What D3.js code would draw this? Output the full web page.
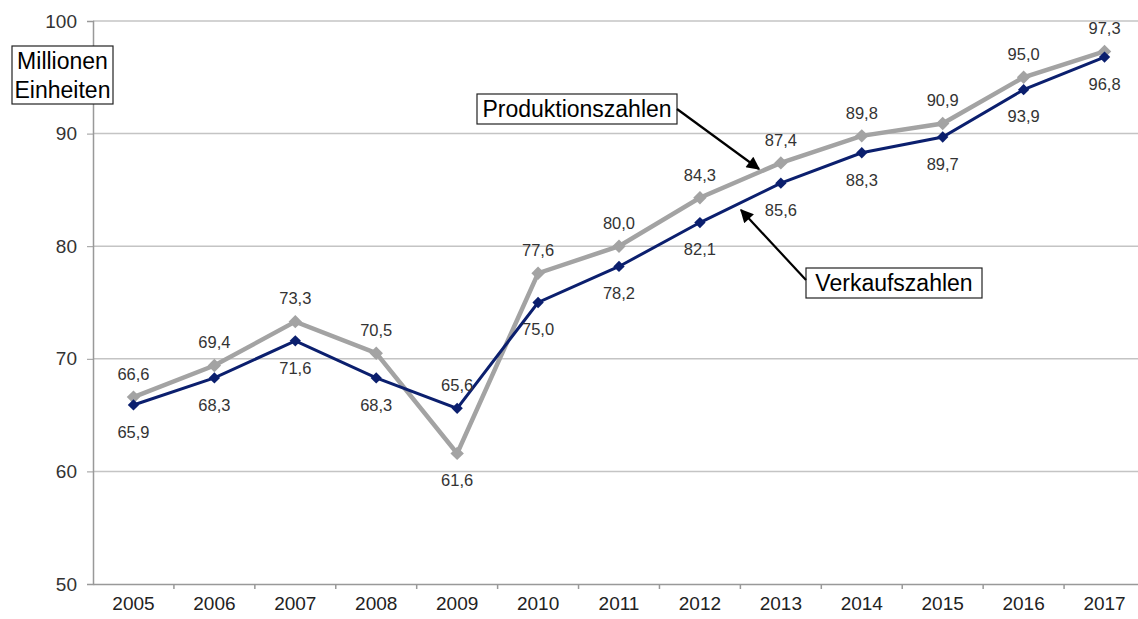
<!DOCTYPE html>
<html>
    <head>
        <meta charset="utf-8">
        <title>Produktion und Verkauf</title>
        <script src="https://d3js.org/d3.v7.min.js"></script>
        <style>
            body { margin: 0; background: #fff; }
            svg { font-family: "Liberation Sans", Arial, sans-serif; display: block; }
        </style>
    </head>
    <body>
        <svg id="chart" width="1138" height="619"></svg>
        <script>
            var years = ['2005', '2006', '2007', '2008', '2009', '2010', '2011', '2012', '2013', '2014', '2015', '2016', '2017'];
            var produktion = [66.6, 69.4, 73.3, 70.5, 61.6, 77.6, 80.0, 84.3, 87.4, 89.8, 90.9, 95.0, 97.3];
            var verkauf = [65.9, 68.3, 71.6, 68.3, 65.6, 75.0, 78.2, 82.1, 85.6, 88.3, 89.7, 93.9, 96.8];
            var yTicks = [50, 60, 70, 80, 90, 100];

            var svg = d3.select('#chart');
            var plotLeft = 93, plotRight = 1145, plotTop = 21, plotBottom = 584;

            var x = d3.scaleBand().domain(years).range([plotLeft, plotRight]);
            var y = d3.scaleLinear().domain([50, 100]).range([plotBottom, plotTop]);
            var fmt = function (v) { return d3.format('.1f')(v).replace('.', ','); };

            // grid
            svg.append('g')
                .selectAll('line')
                .data(yTicks.slice(1))
                .enter()
                .append('line')
                .attr('x1', plotLeft).attr('x2', 1138)
                .attr('y1', (d) => y(d)).attr('y2', (d) => y(d))
                .attr('stroke', '#c4c4c4')
                .attr('stroke-width', 1.5);

            // y axis
            var yAxis = svg.append('g')
                .attr('transform', 'translate(' + plotLeft + ',0)')
                .call(d3.axisLeft(y).tickValues(yTicks).tickSize(6).tickPadding(10));
            yAxis.select('.domain').attr('stroke', '#999').attr('stroke-width', 1.5);
            yAxis.selectAll('.tick line').attr('stroke', '#999');
            yAxis.selectAll('text').attr('font-size', 19).attr('fill', '#333').attr('font-family', null);

            // x axis
            var xAxis = svg.append('g')
                .attr('transform', 'translate(0,' + plotBottom + ')')
                .call(d3.axisBottom(x).tickSize(0).tickPadding(13));
            xAxis.select('.domain').attr('stroke', '#999').attr('stroke-width', 1.5);
            xAxis.selectAll('text').attr('font-size', 19).attr('fill', '#222').attr('font-family', null);
            xAxis.selectAll('.sep')
                .data(years.slice(1))
                .enter()
                .append('line')
                .attr('x1', (d) => x(d)).attr('x2', (d) => x(d))
                .attr('y1', 0).attr('y2', 5)
                .attr('stroke', '#999').attr('stroke-width', 1.5);

            var series = [
                { name: 'Produktionszahlen', values: produktion, other: verkauf, color: '#a3a3a3', width: 4.5, size: 90, up: true },
                { name: 'Verkaufszahlen', values: verkauf, other: produktion, color: '#0b1f6e', width: 3, size: 64, up: false }
            ];

            var line = d3.line()
                .x((d, i) => x(years[i]) + x.bandwidth() / 2)
                .y((d) => y(d));

            series.forEach(function (s) {
                svg.append('path')
                    .datum(s.values)
                    .attr('d', line)
                    .attr('fill', 'none')
                    .attr('stroke', s.color)
                    .attr('stroke-width', s.width)
                    .attr('stroke-linejoin', 'miter');

                svg.append('g')
                    .selectAll('path')
                    .data(s.values)
                    .enter()
                    .append('path')
                    .attr('d', d3.symbol().type(d3.symbolSquare).size(s.size))
                    .attr('transform', (d, i) => 'translate(' + (x(years[i]) + x.bandwidth() / 2) + ',' + y(d) + ') rotate(45)')
                    .attr('fill', s.color);
            });

            series.forEach(function (s) {
                svg.append('g')
                    .selectAll('text')
                    .data(s.values)
                    .enter()
                    .append('text')
                    .attr('x', (d, i) => x(years[i]) + x.bandwidth() / 2)
                    .attr('y', function (d, i) {
                        var above = s.up ? d >= s.other[i] : d > s.other[i];
                        return y(d) + (above ? -23 : 27);
                    })
                    .attr('dy', '0.35em')
                    .attr('text-anchor', 'middle')
                    .attr('font-size', 16.5)
                    .attr('fill', '#333')
                    .text(fmt);
            });

            // annotation boxes
            function box(lines, bx, by, w, h) {
                svg.append('rect')
                    .attr('x', bx).attr('y', by).attr('width', w).attr('height', h)
                    .attr('fill', '#fff').attr('stroke', '#222').attr('stroke-width', 1.2);
                lines.forEach(function (t, i) {
                    svg.append('text')
                        .attr('x', bx + w / 2)
                        .attr('y', by + h / lines.length * (i + 0.5))
                        .attr('dy', '0.35em')
                        .attr('text-anchor', 'middle')
                        .attr('font-size', 23)
                        .attr('fill', '#000')
                        .text(t);
                });
            }

            svg.append('defs').append('marker')
                .attr('id', 'arrow')
                .attr('viewBox', '0 0 10 10')
                .attr('refX', 9).attr('refY', 5)
                .attr('markerWidth', 7).attr('markerHeight', 6)
                .attr('markerUnits', 'strokeWidth')
                .attr('orient', 'auto')
                .append('path')
                .attr('d', 'M0,0 L10,5 L0,10 z')
                .attr('fill', '#000');

            function arrow(x1, y1, x2, y2) {
                svg.append('line')
                    .attr('x1', x1).attr('y1', y1).attr('x2', x2).attr('y2', y2)
                    .attr('stroke', '#000').attr('stroke-width', 2.2)
                    .attr('marker-end', 'url(#arrow)');
            }

            box(['Millionen', 'Einheiten'], 12, 46, 101, 58);
            box(['Produktionszahlen'], 477, 94, 200, 30);
            box(['Verkaufszahlen'], 806, 268, 176, 30);
            arrow(677, 109, 759, 169);
            arrow(806, 280, 741, 210);
        </script>
    </body>
</html>
